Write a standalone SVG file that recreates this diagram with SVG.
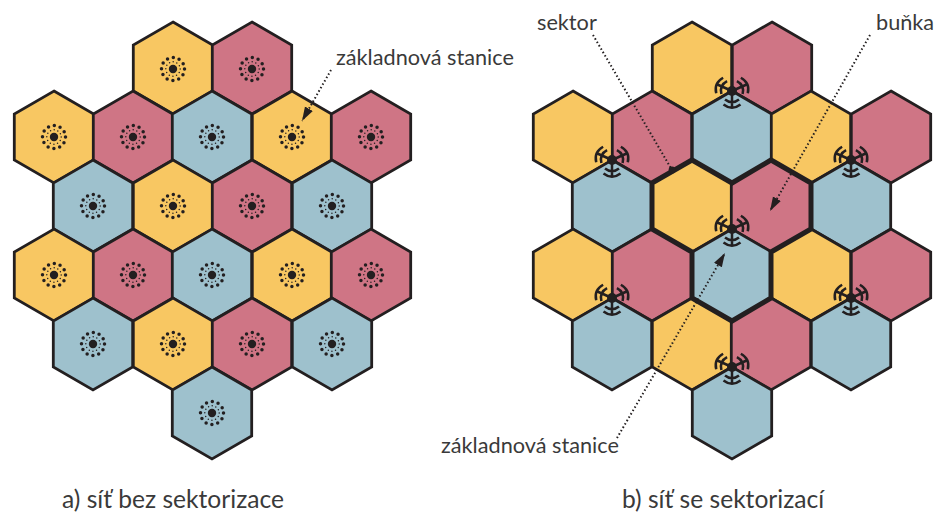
<svg xmlns="http://www.w3.org/2000/svg" width="934" height="518" viewBox="0 0 934 518">
<style>
.h{stroke:#231f20;stroke-width:2.8;stroke-linejoin:miter}
.y{fill:#f8c762}.r{fill:#cf7585}.b{fill:#9ec1cd}
.t{font-family:Lato,"Open Sans","Liberation Sans",sans-serif;fill:#3a3a3a}
.c{stroke:#231f20;stroke-width:2;stroke-dasharray:1.5 2.4;fill:none}
</style>
<defs>
<polygon id="hex" points="0,-46 39.7,-23 39.7,23 0,46 -39.7,23 -39.7,-23"/>
<g id="st" fill="none" stroke="#231f20" stroke-linecap="round">
<circle r="4.2" fill="#231f20" stroke="none"/>
<circle r="7.2" stroke-width="1.5" stroke-dasharray="0 3.77"/>
<circle r="11.5" stroke-width="3.5" stroke-dasharray="0 6.02"/>
</g>
<g id="fork" fill="none" stroke="#231f20" stroke-width="2.5">
<path d="M0,0V16M-7,8.500Q0,14 7,8.500M-8.500,13.500Q0,20 8.500,13.500"/>
</g>
<g id="ant">
<use href="#fork"/>
<use href="#fork" transform="rotate(114)"/>
<use href="#fork" transform="rotate(-114)"/>
<circle r="5" fill="#231f20"/>
</g>
<marker id="ah" markerUnits="userSpaceOnUse" markerWidth="16" markerHeight="12" refX="14" refY="5" orient="auto"><path d="M0,0.500L14,5L0,9.500Z" fill="#231f20"/></marker>
<marker id="dt" markerUnits="userSpaceOnUse" markerWidth="10" markerHeight="10" refX="5" refY="5"><circle cx="5" cy="5" r="3.4" fill="#231f20"/></marker>
</defs>
<rect width="934" height="518" fill="#fff"/>
<g id="net-a">
<g id="a1"><use href="#hex" x="173" y="68" class="h y"/><use href="#st" x="173" y="69"/></g>
<g id="a2"><use href="#hex" x="252" y="68" class="h r"/><use href="#st" x="252" y="69"/></g>
<g id="a3"><use href="#hex" x="54" y="137" class="h y"/><use href="#st" x="54" y="137"/></g>
<g id="a4"><use href="#hex" x="133" y="137" class="h r"/><use href="#st" x="133" y="137"/></g>
<g id="a5"><use href="#hex" x="212" y="137" class="h b"/><use href="#st" x="212" y="137"/></g>
<g id="a6"><use href="#hex" x="292" y="137" class="h y"/><use href="#st" x="292" y="137"/></g>
<g id="a7"><use href="#hex" x="371" y="137" class="h r"/><use href="#st" x="371" y="137"/></g>
<g id="a8"><use href="#hex" x="93" y="206" class="h b"/><use href="#st" x="93" y="206"/></g>
<g id="a9"><use href="#hex" x="173" y="206" class="h y"/><use href="#st" x="173" y="206"/></g>
<g id="a10"><use href="#hex" x="252" y="206" class="h r"/><use href="#st" x="252" y="206"/></g>
<g id="a11"><use href="#hex" x="332" y="206" class="h b"/><use href="#st" x="332" y="206"/></g>
<g id="a12"><use href="#hex" x="54" y="275" class="h y"/><use href="#st" x="54" y="275"/></g>
<g id="a13"><use href="#hex" x="133" y="275" class="h r"/><use href="#st" x="133" y="275"/></g>
<g id="a14"><use href="#hex" x="212" y="275" class="h b"/><use href="#st" x="212" y="275"/></g>
<g id="a15"><use href="#hex" x="292" y="275" class="h y"/><use href="#st" x="292" y="275"/></g>
<g id="a16"><use href="#hex" x="371" y="275" class="h r"/><use href="#st" x="371" y="275"/></g>
<g id="a17"><use href="#hex" x="93" y="344" class="h b"/><use href="#st" x="93" y="344"/></g>
<g id="a18"><use href="#hex" x="173" y="344" class="h y"/><use href="#st" x="173" y="344"/></g>
<g id="a19"><use href="#hex" x="252" y="344" class="h r"/><use href="#st" x="252" y="344"/></g>
<g id="a20"><use href="#hex" x="332" y="344" class="h b"/><use href="#st" x="332" y="344"/></g>
<g id="a21"><use href="#hex" x="212" y="413" class="h b"/><use href="#st" x="212" y="413"/></g>
</g>
<g id="net-b">
<g id="b1"><use href="#hex" x="692" y="68" class="h y"/></g>
<g id="b2"><use href="#hex" x="772" y="68" class="h r"/></g>
<g id="b3"><use href="#hex" x="573" y="137" class="h y"/></g>
<g id="b4"><use href="#hex" x="652" y="137" class="h r"/></g>
<g id="b5"><use href="#hex" x="732" y="137" class="h b"/></g>
<g id="b6"><use href="#hex" x="811" y="137" class="h y"/></g>
<g id="b7"><use href="#hex" x="891" y="137" class="h r"/></g>
<g id="b8"><use href="#hex" x="612" y="206" class="h b"/></g>
<g id="b9"><use href="#hex" x="692" y="206" class="h y"/></g>
<g id="b10"><use href="#hex" x="771" y="206" class="h r"/></g>
<g id="b11"><use href="#hex" x="851" y="206" class="h b"/></g>
<g id="b12"><use href="#hex" x="573" y="275" class="h y"/></g>
<g id="b13"><use href="#hex" x="652" y="275" class="h r"/></g>
<g id="b14"><use href="#hex" x="732" y="275" class="h b"/></g>
<g id="b15"><use href="#hex" x="811" y="275" class="h y"/></g>
<g id="b16"><use href="#hex" x="891" y="275" class="h r"/></g>
<g id="b17"><use href="#hex" x="612" y="344" class="h b"/></g>
<g id="b18"><use href="#hex" x="692" y="344" class="h y"/></g>
<g id="b19"><use href="#hex" x="771" y="344" class="h r"/></g>
<g id="b20"><use href="#hex" x="851" y="344" class="h b"/></g>
<g id="b21"><use href="#hex" x="732" y="413" class="h b"/></g>
<polygon id="cell-outline" points="652,183 692,160 732,183 771,160 811,183 811,229 771,252 771,298 732,321 692,298 692,252 652,229" fill="none" stroke="#231f20" stroke-width="5"/>
<g id="s1"><use href="#ant" x="732" y="91"/></g>
<g id="s2"><use href="#ant" x="612" y="160"/></g>
<g id="s3"><use href="#ant" x="851" y="160"/></g>
<g id="s4"><use href="#ant" x="732" y="229"/></g>
<g id="s5"><use href="#ant" x="612" y="298"/></g>
<g id="s6"><use href="#ant" x="851" y="298"/></g>
<g id="s7"><use href="#ant" x="732" y="367"/></g>
</g>
<g id="connectors">
<path class="c" d="M331,70L302,121" marker-end="url(#ah)"/>
<path class="c" d="M593,35L672,170" marker-end="url(#dt)"/>
<path class="c" d="M870,35L770,211" marker-end="url(#ah)"/>
<path class="c" d="M617,438L725,253" marker-end="url(#ah)"/>
</g>
<g id="labels">
<text class="t" x="336" y="65" font-size="21.700">základnová stanice</text>
<text class="t" x="537" y="30" font-size="21.700">sektor</text>
<text class="t" x="876" y="30" font-size="21.700">buňka</text>
<text class="t" x="441" y="453" font-size="21.700">základnová stanice</text>
<text class="t" x="62" y="508" font-size="24.600">a) síť bez sektorizace</text>
<text class="t" x="622" y="508" font-size="24.600">b) síť se sektorizací</text>
</g>
</svg>
